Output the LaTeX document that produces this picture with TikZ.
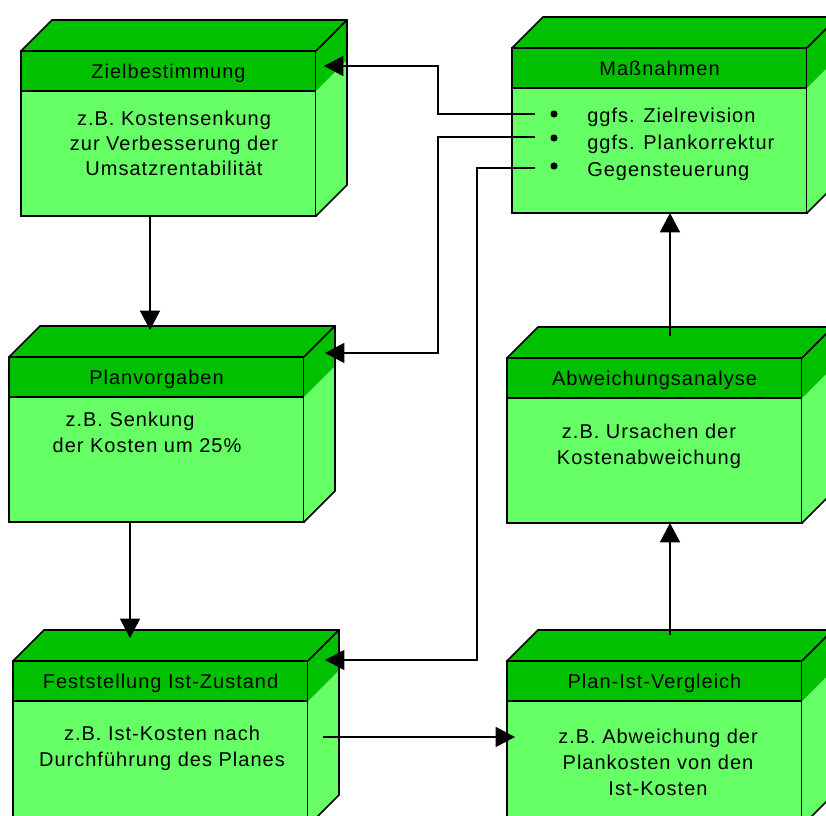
\documentclass[tikz,border=0pt]{standalone}
\usepackage{fontspec}
\setmainfont{Liberation Sans}[LetterSpace=5]
\usetikzlibrary{arrows.meta,calc}

\definecolor{capgreen}{RGB}{0,192,0}
\definecolor{boxgreen}{RGB}{102,255,102}

\tikzset{
  lbl/.style={font=\fontsize{15pt}{19pt}\selectfont, inner sep=0pt},
  frontface/.style={draw, fill=boxgreen, line width=1.3pt, minimum width=221.25pt,
    minimum height=123.75pt, anchor=north west, inner sep=0pt, outer sep=0pt},
  headband/.style={lbl, draw, fill=capgreen, line width=1.3pt, minimum width=221.25pt,
    minimum height=30pt, anchor=north west, outer sep=0pt, text height=10.7pt, text depth=0pt},
  edge/.style={line width=1.3pt, line join=round},
  flow/.style={line width=1.1pt, -{Triangle[length=14.5pt,width=15pt]}},
}

% a green box drawn as a cuboid: front face, title band, top and right faces
\newcommand\quader[3]{%
  \node[frontface] (#1) at #2 {};
  \node[headband] (#1-h) at (#1.north west) {#3};
  \filldraw[edge, fill=capgreen] (#1.north west) -- ++(31,-31)
    -- ($(#1.north east)+(31,-31)$) -- (#1.north east) -- cycle;
  \fill[boxgreen] (#1.north east) -- ++(31,-31)
    -- ($(#1.south east)+(31,-31)$) -- (#1.south east) -- cycle;
  \fill[capgreen] (#1.north east) -- ++(31,-31)
    -- ($(#1-h.south east)+(31,-31)$) -- (#1-h.south east) -- cycle;
  \draw[edge] (#1.north east) -- ++(31,-31)
    -- ($(#1.south east)+(31,-31)$) -- (#1.south east);
}

\begin{document}
\begin{tikzpicture}[x=0.75pt, y=-0.75pt]
\useasboundingbox (0,0) rectangle (826,816);
\fill[white] (0,0) rectangle (826,816);
\clip (0,0) rectangle (826,816);

% boxes
\quader{ziel}{(21,51)}{Zielbestimmung}
\quader{plan}{(9,357)}{Planvorgaben}
\quader{fest}{(13,661)}{Feststellung Ist-Zustand}
\quader{mass}{(512,48)}{Maßnahmen}
\quader{abw}{(507,358)}{Abweichungsanalyse}
\quader{piv}{(507,661)}{Plan-Ist-Vergleich}

% box contents
\node[lbl, anchor=base] (ziel-t1) at (174,126) {z.B. Kostensenkung};
\node[lbl, anchor=base] (ziel-t2) at (174,151) {zur Verbesserung der};
\node[lbl, anchor=base] (ziel-t3) at (174,176) {Umsatzrentabilität};

\node[lbl, anchor=base] (plan-t1) at (130,427) {z.B. Senkung};
\node[lbl, anchor=base] (plan-t2) at (147,453) {der Kosten um 25\%};

\node[lbl, anchor=base] (fest-t1) at (162,741) {z.B. Ist-Kosten nach};
\node[lbl, anchor=base] (fest-t2) at (162,767) {Durchführung des Planes};

\node[lbl, anchor=base] (piv-t1) at (658,744) {z.B. Abweichung der};
\node[lbl, anchor=base] (piv-t2) at (658,770) {Plankosten von den};
\node[lbl, anchor=base] (piv-t3) at (658,796) {Ist-Kosten};

\node[lbl, anchor=base] (abw-t1) at (649,439) {z.B. Ursachen der};
\node[lbl, anchor=base] (abw-t2) at (649,465) {Kostenabweichung};

\foreach \yb in {114,138,166} \fill (554,\yb) circle (3.6);
\node[lbl, anchor=base west] (mass-t1) at (587,123) {ggfs. Zielrevision};
\node[lbl, anchor=base west] (mass-t2) at (587,150) {ggfs. Plankorrektur};
\node[lbl, anchor=base west] (mass-t3) at (587,177) {Gegensteuerung};

% control loop
\draw[flow] ($(ziel.south west)+(129,0)$) -- ($(plan.north west)+(141,-27)$);
\draw[flow] ($(plan.south west)+(121,0)$) -- ($(fest.north west)+(117,-23)$);
\draw[flow] ($(fest.north west)+(310,76)$) -- ($(piv.north west)+(8,76)$);
\draw[flow] ($(piv.north west)+(163,-26)$) -- ($(abw.south west)+(163,0)$);
\draw[flow] ($(abw.north west)+(163,-22)$) -- ($(mass.south west)+(158,0)$);

% feedback from the measures
\coordinate (m1) at ($(mass.north west)+(23,66)$);
\coordinate (m2) at ($(mass.north west)+(23,89)$);
\coordinate (m3) at ($(mass.north west)+(23,120)$);
\draw[flow] (m1) -- ++(-97,0) |- ($(ziel.north east)+(8,15)$);
\draw[flow] (m2) -- ++(-97,0) |- ($(plan.north east)+(21,-4)$);
\draw[flow] (m3) -- ++(-58,0) |- ($(fest.north east)+(17,-1)$);
\end{tikzpicture}
\end{document}
